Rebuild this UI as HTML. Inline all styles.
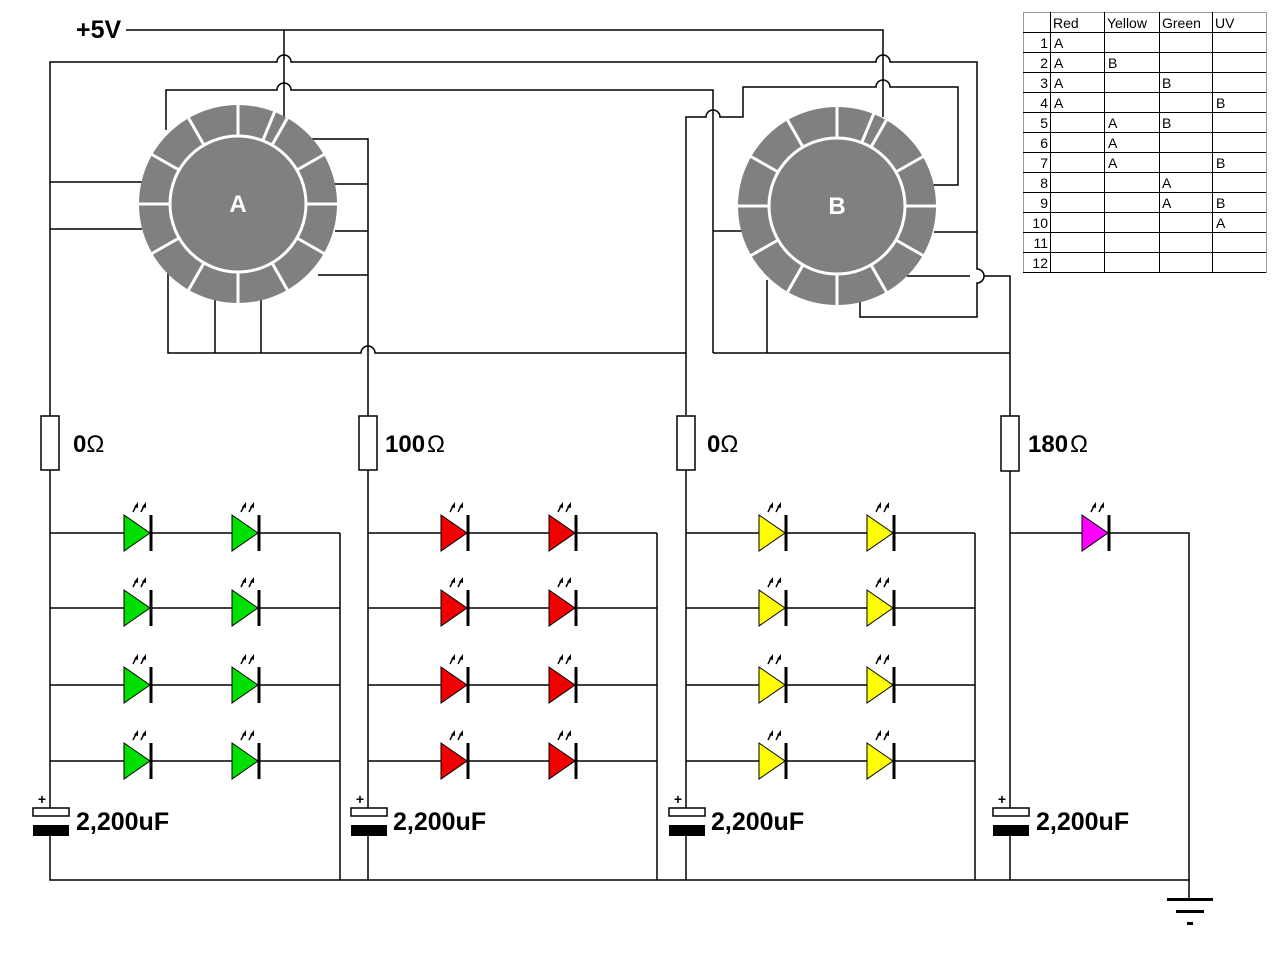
<!DOCTYPE html>
<html><head><meta charset="utf-8"><style>
html,body{margin:0;padding:0;background:#fff}
svg{display:block}
.b{font-family:"Liberation Sans",sans-serif;font-weight:bold}
.t{font-family:"Liberation Sans",sans-serif;font-size:14px}
</style></head><body>
<svg width="1280" height="960" viewBox="0 0 1280 960" xmlns="http://www.w3.org/2000/svg">
<defs>
<g id="arr">
<line x1="9" y1="-21" x2="12" y2="-27" stroke="#000" stroke-width="1.5"/>
<polygon points="14,-31 10,-26 14,-25" fill="#000"/>
<line x1="17" y1="-21" x2="20" y2="-27" stroke="#000" stroke-width="1.5"/>
<polygon points="22,-31 18,-26 22,-25" fill="#000"/>
</g>
<g id="ledG"><polygon points="0,-18 26,0 0,18" fill="#00e000" stroke="#000" stroke-width="1"/><line x1="27" y1="-18" x2="27" y2="18" stroke="#000" stroke-width="3"/><use href="#arr"/></g>
<g id="ledR"><polygon points="0,-18 26,0 0,18" fill="#f00000" stroke="#000" stroke-width="1"/><line x1="27" y1="-18" x2="27" y2="18" stroke="#000" stroke-width="3"/><use href="#arr"/></g>
<g id="ledY"><polygon points="0,-18 26,0 0,18" fill="#ffff00" stroke="#000" stroke-width="1"/><line x1="27" y1="-18" x2="27" y2="18" stroke="#000" stroke-width="3"/><use href="#arr"/></g>
<g id="ledM"><polygon points="0,-18 26,0 0,18" fill="#ff00ff" stroke="#000" stroke-width="1"/><line x1="27" y1="-18" x2="27" y2="18" stroke="#000" stroke-width="3"/><use href="#arr"/></g>
<g id="wheel">
<circle r="99" fill="#808080"/>
<circle r="68" fill="none" stroke="#fff" stroke-width="3"/>
<g stroke="#fff" stroke-width="3">
<line x1="-67" y1="0" x2="-100" y2="0"/><line x1="67" y1="0" x2="100" y2="0"/>
<line x1="0" y1="-67" x2="0" y2="-100"/><line x1="0" y1="67" x2="0" y2="100"/>
<line x1="-58" y1="-33.5" x2="-87" y2="-50"/><line x1="58" y1="-33.5" x2="87" y2="-50"/>
<line x1="-58" y1="33.5" x2="-87" y2="50"/><line x1="58" y1="33.5" x2="87" y2="50"/>
<line x1="-33.5" y1="-58" x2="-50" y2="-87"/><line x1="33.5" y1="-58" x2="50" y2="-87"/>
<line x1="-33.5" y1="58" x2="-50" y2="87"/><line x1="33.5" y1="58" x2="50" y2="87"/>
<line x1="25" y1="-64" x2="37" y2="-93"/>
</g>
</g>
</defs>

<g stroke="#000" stroke-width="1.5" fill="none">
<path d="M126 30 H883 V117"/>
<path d="M284 30 V118"/>
<path d="M50 470 V62 H277 a7 7 0 0 1 14 0 H876 a7 7 0 0 1 14 0 H977 V269 a7 7 0 0 1 0 14 V317 H860 V300"/>
<path d="M166 130 V90 H277 a7 7 0 0 1 14 0 H713 V353"/>
<path d="M686 415 V117 H706 a7 7 0 0 1 14 0 H743 V87 H876 a7 7 0 0 1 14 0 H958 V185 H930"/>
<path d="M300 139 H368 V416"/>
<path d="M330 184 H368 M335 231 H368 M318 275 H368"/>
<path d="M50 182 H142 M50 229 H142"/>
<path d="M168 270 V353 H361 a7 7 0 0 1 14 0 H686"/>
<path d="M215 295 V353 M261 295 V353"/>
<path d="M713 231 H742"/>
<path d="M713 353 H1010"/>
<path d="M767 280 V353"/>
<path d="M907 276 H970 M984 276 H1010 V416"/>
<path d="M934 232 H977"/>
<path d="M50 470 V808 M50 836 V880 H1189 V900"/>
<path d="M368 470 V808 M368 836 V880"/>
<path d="M686 470 V808 M686 836 V880"/>
<path d="M1010 471 V808 M1010 836 V880"/>
<path d="M340 533 V880 M657 533 V880 M975 533 V880"/>
<path d="M50 533 H340 M50 608 H340 M50 685 H340 M50 761 H340"/>
<path d="M368 533 H657 M368 608 H657 M368 685 H657 M368 761 H657"/>
<path d="M686 533 H975 M686 608 H975 M686 685 H975 M686 761 H975"/>
<path d="M1010 533 H1189 V880"/>
</g>

<use href="#wheel" x="238" y="204"/>
<use href="#wheel" x="837" y="206"/>
<text x="238" y="212" text-anchor="middle" class="b" font-size="24" fill="#fff">A</text>
<text x="837" y="214" text-anchor="middle" class="b" font-size="24" fill="#fff">B</text>

<text x="76" y="38" class="b" font-size="25">+5V</text>

<g fill="#fff" stroke="#000" stroke-width="1.5">
<rect x="41" y="416" width="18" height="54"/>
<rect x="359" y="416" width="18" height="54"/>
<rect x="677" y="416" width="18" height="54"/>
<rect x="1001" y="416" width="18" height="55"/>
</g>
<g font-size="24">
<text x="73" y="452" class="b">0<tspan font-weight="normal">Ω</tspan></text>
<text x="385" y="452" class="b">100<tspan font-weight="normal" dx="2">Ω</tspan></text>
<text x="707" y="452" class="b">0<tspan font-weight="normal">Ω</tspan></text>
<text x="1028" y="452" class="b">180<tspan font-weight="normal" dx="2">Ω</tspan></text>
</g>

<use href="#ledG" x="124" y="533"/><use href="#ledG" x="232" y="533"/>
<use href="#ledG" x="124" y="608"/><use href="#ledG" x="232" y="608"/>
<use href="#ledG" x="124" y="685"/><use href="#ledG" x="232" y="685"/>
<use href="#ledG" x="124" y="761"/><use href="#ledG" x="232" y="761"/>
<use href="#ledR" x="441" y="533"/><use href="#ledR" x="549" y="533"/>
<use href="#ledR" x="441" y="608"/><use href="#ledR" x="549" y="608"/>
<use href="#ledR" x="441" y="685"/><use href="#ledR" x="549" y="685"/>
<use href="#ledR" x="441" y="761"/><use href="#ledR" x="549" y="761"/>
<use href="#ledY" x="759" y="533"/><use href="#ledY" x="867" y="533"/>
<use href="#ledY" x="759" y="608"/><use href="#ledY" x="867" y="608"/>
<use href="#ledY" x="759" y="685"/><use href="#ledY" x="867" y="685"/>
<use href="#ledY" x="759" y="761"/><use href="#ledY" x="867" y="761"/>
<use href="#ledM" x="1082" y="533"/>

<g>
<g transform="translate(50,0)"><rect x="-17" y="808" width="36" height="8" fill="#fff" stroke="#000" stroke-width="1.5"/><rect x="-17" y="825" width="36" height="11" fill="#000"/><text x="-8" y="804" class="b" font-size="14" text-anchor="middle">+</text></g>
<g transform="translate(368,0)"><rect x="-17" y="808" width="36" height="8" fill="#fff" stroke="#000" stroke-width="1.5"/><rect x="-17" y="825" width="36" height="11" fill="#000"/><text x="-8" y="804" class="b" font-size="14" text-anchor="middle">+</text></g>
<g transform="translate(686,0)"><rect x="-17" y="808" width="36" height="8" fill="#fff" stroke="#000" stroke-width="1.5"/><rect x="-17" y="825" width="36" height="11" fill="#000"/><text x="-8" y="804" class="b" font-size="14" text-anchor="middle">+</text></g>
<g transform="translate(1010,0)"><rect x="-17" y="808" width="36" height="8" fill="#fff" stroke="#000" stroke-width="1.5"/><rect x="-17" y="825" width="36" height="11" fill="#000"/><text x="-8" y="804" class="b" font-size="14" text-anchor="middle">+</text></g>
</g>
<g font-size="25" class="b">
<text x="76" y="830">2,200uF</text>
<text x="393" y="830">2,200uF</text>
<text x="711" y="830">2,200uF</text>
<text x="1036" y="830">2,200uF</text>
</g>

<rect x="1167" y="898" width="46" height="3" fill="#000"/>
<rect x="1176" y="910" width="28" height="3" fill="#000"/>
<rect x="1187" y="922" width="6" height="3" fill="#000"/>

<g stroke="#000" stroke-width="1">
<rect x="1023.5" y="12.5" width="243" height="260" fill="#fff" stroke="#999"/>
<path d="M1050.5 12 V272 M1104.5 12 V272 M1159.5 12 V272 M1212.5 12 V272"/>
<path d="M1023 32.5 H1266 M1023 52.5 H1266 M1023 72.5 H1266 M1023 92.5 H1266 M1023 112.5 H1266 M1023 132.5 H1266 M1023 152.5 H1266 M1023 172.5 H1266 M1023 192.5 H1266 M1023 212.5 H1266 M1023 232.5 H1266 M1023 252.5 H1266 M1023 272.5 H1266"/>
</g>
<g class="t" fill="#000">
<text x="1053" y="28">Red</text><text x="1107" y="28">Yellow</text><text x="1162" y="28">Green</text><text x="1215" y="28">UV</text>
<g text-anchor="end">
<text x="1048" y="48">1</text><text x="1048" y="68">2</text><text x="1048" y="88">3</text><text x="1048" y="108">4</text><text x="1048" y="128">5</text><text x="1048" y="148">6</text><text x="1048" y="168">7</text><text x="1048" y="188">8</text><text x="1048" y="208">9</text><text x="1048" y="228">10</text><text x="1048" y="248">11</text><text x="1048" y="268">12</text>
</g>
<text x="1054" y="48">A</text><text x="1054" y="68">A</text><text x="1054" y="88">A</text><text x="1054" y="108">A</text>
<text x="1108" y="68">B</text><text x="1108" y="128">A</text><text x="1108" y="148">A</text><text x="1108" y="168">A</text>
<text x="1162" y="88">B</text><text x="1162" y="128">B</text><text x="1162" y="188">A</text><text x="1162" y="208">A</text>
<text x="1216" y="108">B</text><text x="1216" y="168">B</text><text x="1216" y="208">B</text><text x="1216" y="228">A</text>
</g>
</svg>
</body></html>
